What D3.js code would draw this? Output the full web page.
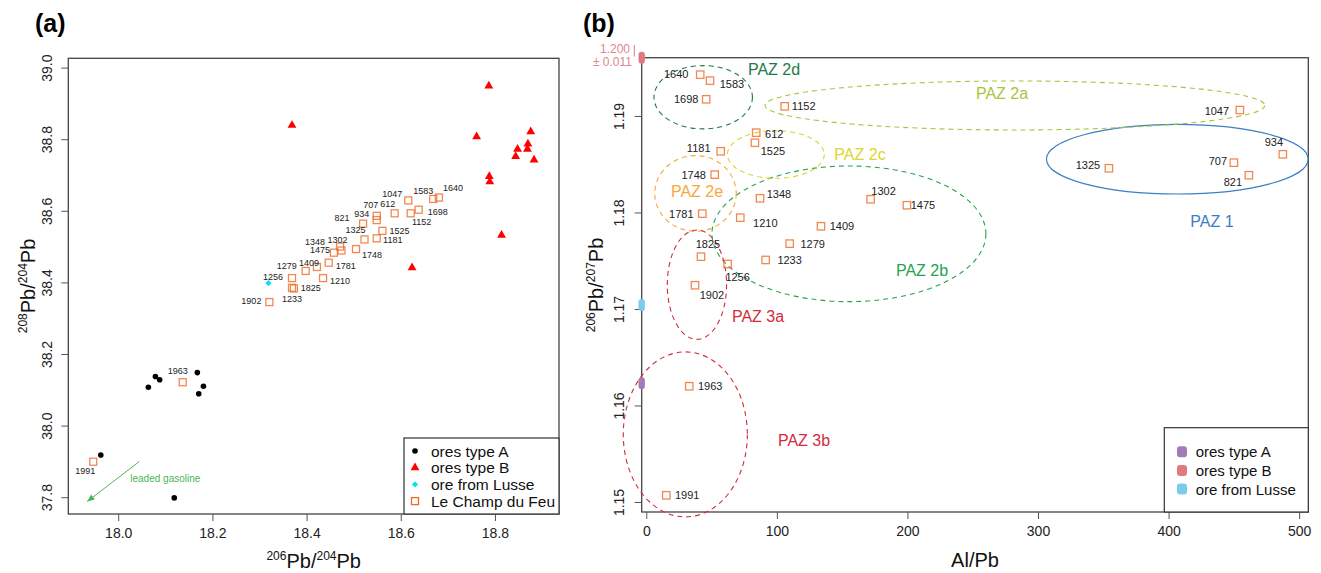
<!DOCTYPE html>
<html>
<head>
<meta charset="utf-8">
<script src="https://cdn.jsdelivr.net/npm/d3@7"></script>
<style>
  body { margin: 0; background: #fff; }
  svg { font-family: "Liberation Sans", Arial, sans-serif; }
</style>
</head>
<body>
<svg id="chart" width="1321" height="573"></svg>
<script>
// ---- panel (a) data: 206Pb/204Pb vs 208Pb/204Pb
let oresA206 = [17.963, 18.119, 18.064, 18.079, 18.088, 18.168, 18.181, 18.171]
let oresA208 = [37.918, 37.798, 38.107, 38.137, 38.128, 38.148, 38.110, 38.089]

let oresB206 = [18.369, 18.787, 18.761, 18.876, 18.870, 18.848, 18.869, 18.844, 18.883, 18.788, 18.789, 18.814, 18.624]
let oresB208 = [38.839, 38.949, 38.807, 38.821, 38.787, 38.772, 38.772, 38.752, 38.742, 38.696, 38.681, 38.532, 38.441]

let lusse206 = [18.319]
let lusse208 = [38.398]

let samples = ["1991", "1963", "1902", "1233", "1825", "1256", "1279", "1409", "1210", "1781", "1475", "1348", "1302",
  "1748", "821", "1325", "707", "934", "1181", "1525", "612", "1152", "1698", "1047", "1583", "1640"]
let champ206 = [17.947, 18.137, 18.321, 18.369, 18.373, 18.369, 18.398, 18.422, 18.435, 18.447, 18.458, 18.471, 18.474,
  18.505, 18.520, 18.523, 18.549, 18.549, 18.549, 18.561, 18.587, 18.621, 18.638, 18.616, 18.669, 18.681]
let champ208 = [37.899, 38.121, 38.345, 38.385, 38.383, 38.412, 38.432, 38.443, 38.412, 38.455, 38.483, 38.500, 38.489,
  38.493, 38.564, 38.520, 38.586, 38.574, 38.523, 38.544, 38.593, 38.593, 38.603, 38.629, 38.633, 38.637]

// ---- panel (b) data: Al/Pb vs 206Pb/207Pb, same samples
let champAlPb = [15.3, 32.9, 37.3, 91.4, 41.9, 62.3, 109.8, 133.8, 72.0, 42.9, 199.6, 87.1, 171.8,
  52.4, 461.5, 354.3, 450.0, 487.5, 57.0, 83.2, 84.2, 106.0, 45.9, 454.6, 48.8, 41.3]
let champ206207 = [1.15069, 1.16199, 1.17246, 1.17508, 1.17542, 1.17466, 1.17677, 1.17857, 1.17946, 1.17988, 1.18075, 1.18147, 1.18137,
  1.18392, 1.18386, 1.18458, 1.18516, 1.18603, 1.18634, 1.18723, 1.18827, 1.19100, 1.19173, 1.19062, 1.19366, 1.19428]

let oreNames = ["ores type A", "ores type B", "ore from Lusse"]
let ore206207 = [1.1623, 1.200, 1.1704]

let pazNames = ["PAZ 1", "PAZ 2a", "PAZ 2b", "PAZ 2c", "PAZ 2d", "PAZ 2e", "PAZ 3a", "PAZ 3b"]
let pazAlPb = [406.7, 282.3, 155.2, 99.2, 43.6, 37.7, 38.8, 29.9]
let pazRatio = [1.18552, 1.19109, 1.17779, 1.18601, 1.19194, 1.18197, 1.17252, 1.15700]
let pazHalfAlPb = [100.2, 191.4, 104.9, 37.1, 37.7, 31.2, 22.7, 47.5]
let pazHalfRatio = [0.00361, 0.00254, 0.00703, 0.00247, 0.00328, 0.00392, 0.00567, 0.00855]

let ticksA206 = [18.0, 18.2, 18.4, 18.6, 18.8]
let ticksA208 = [37.8, 38.0, 38.2, 38.4, 38.6, 38.8, 39.0]
let ticksAlPb = [0, 100, 200, 300, 400, 500]
let ticks206207 = [1.15, 1.16, 1.17, 1.18, 1.19]

// ---- styles / placement (not data)
let orange = "#ef6a26"
let pazColor = {"PAZ 1": "#3b7ec3", "PAZ 2a": "#a6c63c", "PAZ 2b": "#26a24f", "PAZ 2c": "#dcd62a",
  "PAZ 2d": "#1e7b46", "PAZ 2e": "#f5a93c", "PAZ 3a": "#d42b3b", "PAZ 3b": "#d42b3b"}
let pazLabelAt = {"PAZ 1": [1212, 221], "PAZ 2a": [1002, 93], "PAZ 2b": [922, 270], "PAZ 2c": [860, 154],
  "PAZ 2d": [774, 69], "PAZ 2e": [697, 191], "PAZ 3a": [758, 316], "PAZ 3b": [804, 440]}
let oreColor = ["#a47bb9", "#df7a80", "#7ccbec"]

let offA = {"1991": [-8, 9], "1963": [-5, -11], "1902": [-18, -1], "1233": [0, 11], "1825": [17, 0],
  "1256": [-19, -1], "1279": [-19, -5], "1409": [-8, -4], "1210": [17, 3], "1781": [17, 3], "1475": [-14, -3],
  "1348": [-25, -5], "1302": [-4, -10.5], "1748": [16, 6], "821": [-21, -6], "1325": [-9, -9], "707": [-6, -11],
  "934": [-15, -6], "1181": [16, 2], "1525": [17, 0], "612": [-7, -9], "1152": [11, 9], "1698": [19, 2],
  "1047": [-16, -6], "1583": [-10, -8], "1640": [14, -10]}
let offB = {"1991": [21, 0], "1963": [21, 0], "1902": [17, 10], "1233": [24, 0], "1825": [7, -13],
  "1256": [10, 13], "1279": [23, 0], "1409": [21, 0], "1210": [25, 5], "1781": [-21, 0], "1475": [16, 0],
  "1348": [19, -4], "1302": [13, -8], "1748": [-21, 0], "821": [-16, 7], "1325": [-21, -3], "707": [-16, -2],
  "934": [-9, -12], "1181": [-22, -3], "1525": [18, 8], "612": [18, 1], "1152": [19, 0], "1698": [-20, 0],
  "1047": [-23, 1], "1583": [22, 3], "1640": [-24, -1]}

let svg = d3.select("#chart")

// ================= panel (a)
let xA = d3.scaleLinear().domain([17.894, 18.936]).range([68.3, 559])
let yA = d3.scaleLinear().domain([37.753, 39.026]).range([514, 58.3])

function frame(g, x, y) {
  let [x0, x1] = x.range(), [y0, y1] = y.range()
  g.append("rect")
    .attr("x", x0).attr("y", y1).attr("width", x1 - x0).attr("height", y0 - y1)
    .attr("fill", "none").attr("stroke", "#444").attr("stroke-width", 1.3)
}

function axes(g, x, y, xt, yt, xfmt, yfmt, yOff) {
  let bottom = g.append("g")
    .attr("transform", `translate(0,${y.range()[0]})`)
    .call(d3.axisBottom(x).tickValues(xt).tickFormat(d3.format(xfmt)).tickSize(7))
  let left = g.append("g")
    .attr("transform", `translate(${x.range()[0]},0)`)
    .call(d3.axisLeft(y).tickValues(yt).tickFormat(d3.format(yfmt)).tickSize(7))
  for (let a of [bottom, left]) {
    a.select(".domain").remove()
    a.selectAll("line").attr("stroke", "#555")
    a.selectAll("text").attr("fill", "#222").attr("font-size", 14)
  }
  bottom.selectAll("text").attr("y", 24).attr("dy", 0)
  left.selectAll("text")
    .attr("transform", "rotate(-90)")
    .attr("x", 0).attr("y", -yOff).attr("dy", 0)
    .attr("text-anchor", "middle")
}

function pbTitle(g, parts, x, y, rotate) {
  let t = g.append("text")
    .attr("transform", `translate(${x},${y})` + (rotate ? " rotate(-90)" : ""))
    .attr("text-anchor", "middle").attr("font-size", 20).attr("fill", "#111")
  parts.forEach(p => {
    if (p.sup) t.append("tspan").attr("font-size", 12).attr("dy", -8).text(p.sup)
    t.append("tspan").attr("dy", p.sup ? 8 : 0).text(p.text)
  })
}

let gA = svg.append("g")
frame(gA, xA, yA)
axes(gA, xA, yA, ticksA206, ticksA208, ".1f", ".1f", 16)

gA.append("text").attr("x", 35).attr("y", 32)
  .attr("font-size", 25).attr("font-weight", "bold").text("(a)")
pbTitle(gA, [{sup: "206", text: "Pb/"}, {sup: "204", text: "Pb"}], 313.7, 568, false)
pbTitle(gA, [{sup: "208", text: "Pb/"}, {sup: "204", text: "Pb"}], 35, 286, true)

// leaded gasoline arrow
let gas = [[18.0446, 37.8994], [17.934, 37.7877]]
let green = "#4db553"
let p0 = [xA(gas[0][0]), yA(gas[0][1])], p1 = [xA(gas[1][0]), yA(gas[1][1])]
gA.append("line")
  .attr("x1", p0[0]).attr("y1", p0[1]).attr("x2", p1[0]).attr("y2", p1[1])
  .attr("stroke", green).attr("stroke-width", 1)
let ang = Math.atan2(p1[1] - p0[1], p1[0] - p0[0])
let head = [0, 1, -1].map((s, i) => i === 0 ? p1 :
  [p1[0] - 8 * Math.cos(ang + s * 0.4), p1[1] - 8 * Math.sin(ang + s * 0.4)])
gA.append("path").attr("d", "M" + head.join("L") + "Z").attr("fill", green)
gA.append("text").attr("x", 165.3).attr("y", 478.3)
  .attr("text-anchor", "middle").attr("dominant-baseline", "central")
  .attr("font-size", 10).attr("fill", green).text("leaded gasoline")

// squares (Le Champ du Feu)
gA.selectAll(".sqA").data(samples).enter()
  .append("rect")
  .attr("x", (d, i) => xA(champ206[i]) - 3.5)
  .attr("y", (d, i) => yA(champ208[i]) - 3.5)
  .attr("width", 7).attr("height", 7)
  .attr("fill", "none").attr("stroke", orange).attr("stroke-opacity", 0.8).attr("stroke-width", 1.3)

gA.selectAll(".labA").data(samples).enter()
  .append("text")
  .attr("x", (d, i) => xA(champ206[i]) + offA[d][0])
  .attr("y", (d, i) => yA(champ208[i]) + offA[d][1])
  .attr("text-anchor", "middle").attr("dominant-baseline", "central")
  .attr("font-size", 9).attr("fill", "#222").text(d => d)

// ores type A
gA.selectAll(".oreA").data(oresA206).enter()
  .append("circle")
  .attr("cx", d => xA(d)).attr("cy", (d, i) => yA(oresA208[i])).attr("r", 2.8)
  .attr("fill", "#000")

// ores type B
let tri = d3.symbol().type(d3.symbolTriangle).size(34)
gA.selectAll(".oreB").data(oresB206).enter()
  .append("path")
  .attr("d", tri)
  .attr("transform", (d, i) => `translate(${xA(d)},${yA(oresB208[i])})`)
  .attr("fill", "#ff0000")

// ore from Lusse (square turned 45 degrees)
let dia = d3.symbol().type(d3.symbolSquare).size(19)
gA.selectAll(".lusse").data(lusse206).enter()
  .append("path")
  .attr("d", dia)
  .attr("transform", (d, i) => `translate(${xA(d)},${yA(lusse208[i])}) rotate(45)`)
  .attr("fill", "#00e5ef")

// legend (a)
let legA = gA.append("g")
legA.append("rect").attr("x", 404).attr("y", 438).attr("width", 155).attr("height", 76)
  .attr("fill", "#fff").attr("stroke", "#333").attr("stroke-width", 1.2)
let legAItems = ["ores type A", "ores type B", "ore from Lusse", "Le Champ du Feu"]
legAItems.forEach((name, i) => {
  let cy = 451 + i * 16.7
  if (i === 0) legA.append("circle").attr("cx", 415).attr("cy", cy).attr("r", 2.8).attr("fill", "#000")
  if (i === 1) legA.append("path").attr("d", tri).attr("transform", `translate(415,${cy})`).attr("fill", "#ff0000")
  if (i === 2) legA.append("path").attr("d", dia).attr("transform", `translate(415,${cy}) rotate(45)`).attr("fill", "#00e5ef")
  if (i === 3) legA.append("rect").attr("x", 411.5).attr("y", cy - 3.5).attr("width", 7).attr("height", 7)
    .attr("fill", "none").attr("stroke", orange).attr("stroke-width", 1.3)
  legA.append("text").attr("x", 431).attr("y", cy).attr("dominant-baseline", "central")
    .attr("font-size", 15.5).attr("fill", "#111").text(name)
})

// ================= panel (b)
let xB = d3.scaleLinear().domain([-3.5, 507]).range([641.7, 1308.3])
let yB = d3.scaleLinear().domain([1.14896, 1.19604]).range([512, 57.7])

let gB = svg.append("g")
frame(gB, xB, yB)
axes(gB, xB, yB, ticksAlPb, ticks206207, "d", ".2f", 17.5)

gB.append("text").attr("x", 583).attr("y", 32)
  .attr("font-size", 25).attr("font-weight", "bold").text("(b)")
gB.append("text").attr("x", 975).attr("y", 567).attr("text-anchor", "middle")
  .attr("font-size", 20).attr("fill", "#111").text("Al/Pb")
pbTitle(gB, [{sup: "206", text: "Pb/"}, {sup: "207", text: "Pb"}], 603, 285, true)

// zones
gB.selectAll(".paz").data(pazNames).enter()
  .append("ellipse")
  .attr("cx", (d, i) => xB(pazAlPb[i]))
  .attr("cy", (d, i) => yB(pazRatio[i]))
  .attr("rx", (d, i) => xB(pazHalfAlPb[i]) - xB(0))
  .attr("ry", (d, i) => yB(0) - yB(pazHalfRatio[i]))
  .attr("fill", "none")
  .attr("stroke", d => pazColor[d])
  .attr("stroke-width", 1.1)
  .attr("stroke-dasharray", d => d === "PAZ 1" ? null : "5,4")

gB.selectAll(".pazLab").data(pazNames).enter()
  .append("text")
  .attr("x", d => pazLabelAt[d][0]).attr("y", d => pazLabelAt[d][1])
  .attr("text-anchor", "middle").attr("dominant-baseline", "central")
  .attr("font-size", 16).attr("fill", d => pazColor[d]).text(d => d)

// squares
gB.selectAll(".sqB").data(samples).enter()
  .append("rect")
  .attr("x", (d, i) => xB(champAlPb[i]) - 3.7)
  .attr("y", (d, i) => yB(champ206207[i]) - 3.7)
  .attr("width", 7.4).attr("height", 7.4)
  .attr("fill", "none").attr("stroke", orange).attr("stroke-opacity", 0.8).attr("stroke-width", 1.3)

gB.selectAll(".labB").data(samples).enter()
  .append("text")
  .attr("x", (d, i) => xB(champAlPb[i]) + offB[d][0])
  .attr("y", (d, i) => yB(champ206207[i]) + offB[d][1])
  .attr("text-anchor", "middle").attr("dominant-baseline", "central")
  .attr("font-size", 11).attr("fill", "#222").text(d => d)

// ore ratios marked on the y axis (clamped to the plot top)
let yTop = yB.domain()[1]
gB.selectAll(".oreMark").data(ore206207).enter()
  .append("rect")
  .attr("x", xB.range()[0] - 3.2).attr("width", 6.4)
  .attr("y", d => yB(Math.min(d, yTop)) - 6).attr("height", 12)
  .attr("rx", 3.2)
  .attr("fill", (d, i) => oreColor[i])

let typeB = ore206207[1]
if (typeB > yTop) {
  gB.append("line").attr("x1", 634.3).attr("x2", 634.3).attr("y1", 45).attr("y2", 56.5)
    .attr("stroke", oreColor[1]).attr("stroke-width", 1)
  gB.append("text").attr("x", 630).attr("y", 49).attr("text-anchor", "end")
    .attr("dominant-baseline", "central").attr("font-size", 12).attr("fill", "#e0868b")
    .text(d3.format(".3f")(typeB))
  gB.append("text").attr("x", 632).attr("y", 62.3).attr("text-anchor", "end")
    .attr("dominant-baseline", "central").attr("font-size", 12).attr("fill", "#e0868b")
    .text("± 0.011")
}

// legend (b)
let legB = gB.append("g")
legB.append("rect").attr("x", 1164.3).attr("y", 427.7).attr("width", 144).attr("height", 84.3)
  .attr("fill", "#fff").attr("stroke", "#333").attr("stroke-width", 1.2)
oreNames.forEach((name, i) => {
  let cy = 451.7 + i * 18.7
  legB.append("rect").attr("x", 1177).attr("y", cy - 5.5).attr("width", 10).attr("height", 11)
    .attr("rx", 3).attr("fill", oreColor[i])
  legB.append("text").attr("x", 1195.7).attr("y", cy).attr("dominant-baseline", "central")
    .attr("font-size", 15).attr("fill", "#111").text(name)
})
</script>
</body>
</html>
